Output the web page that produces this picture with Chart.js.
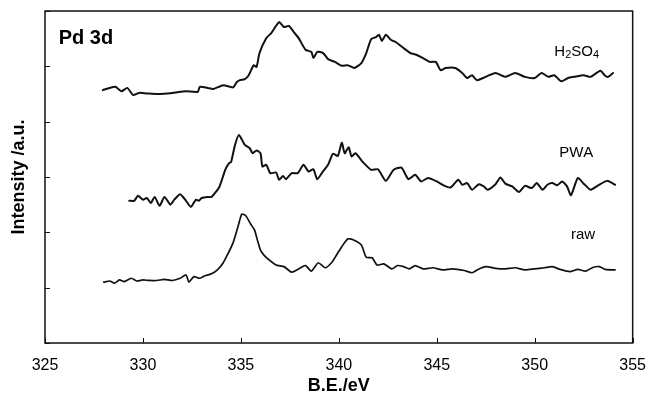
<!DOCTYPE html>
<html>
<head>
<meta charset="utf-8">
<script src="https://cdn.jsdelivr.net/npm/chart.js@4.4.0/dist/chart.umd.min.js"></script>
<style>
  html, body { margin: 0; padding: 0; background: #fff; }
  #box { width: 659px; height: 397px; }
</style>
</head>
<body>
<div id="box"><canvas id="grafico"></canvas></div>
<script>
// eixos
const xTicks = [325, 330, 335, 340, 345, 350, 355]
const yTicks = [0, 1, 2, 3, 4, 5, 6]

// H2SO4
const h2so4X = [327.95, 328.3, 328.6, 328.9, 329.2, 329.5, 329.8, 330.2, 330.8, 331.5, 332.2, 332.8, 332.9, 333.3, 333.6, 334.1, 334.6, 334.8, 334.95, 335.2, 335.4, 335.65, 335.8, 335.95, 336.3, 336.55, 336.95, 337.2, 337.45, 337.7, 337.95, 338.3, 338.6, 338.7, 338.9, 339.2, 339.45, 339.8, 340.15, 340.45, 340.8, 341.15, 341.4, 341.65, 341.9, 342.05, 342.2, 342.4, 342.65, 342.9, 343.3, 343.65, 343.95, 344.3, 344.65, 344.95, 345.2, 345.45, 345.95, 346.3, 346.55, 346.8, 347.05, 347.5, 348.0, 348.5, 349.0, 349.5, 350.0, 350.35, 350.7, 351.0, 351.35, 351.7, 352.0, 352.5, 352.85, 353.35, 353.6, 353.75, 354.0]
const h2so4Y = [4.57, 4.61, 4.63, 4.55, 4.61, 4.48, 4.52, 4.51, 4.50, 4.52, 4.55, 4.54, 4.63, 4.61, 4.59, 4.66, 4.62, 4.72, 4.75, 4.77, 4.84, 5.02, 4.99, 5.24, 5.51, 5.60, 5.80, 5.71, 5.73, 5.62, 5.51, 5.30, 5.26, 5.15, 5.26, 5.24, 5.13, 5.08, 5.01, 5.02, 4.97, 5.06, 5.24, 5.49, 5.53, 5.57, 5.46, 5.57, 5.48, 5.44, 5.33, 5.24, 5.21, 5.15, 5.08, 5.08, 4.93, 4.97, 4.97, 4.88, 4.79, 4.84, 4.75, 4.81, 4.88, 4.81, 4.88, 4.81, 4.79, 4.88, 4.81, 4.84, 4.73, 4.79, 4.81, 4.84, 4.81, 4.92, 4.83, 4.81, 4.88]

// PWA
const pwaX = [329.3, 329.55, 329.75, 330.0, 330.2, 330.4, 330.6, 330.85, 331.1, 331.4, 331.6, 331.9, 332.2, 332.45, 332.7, 332.85, 333.0, 333.3, 333.5, 333.9, 334.2, 334.4, 334.5, 334.7, 334.9, 335.2, 335.45, 335.6, 335.8, 336.0, 336.1, 336.3, 336.5, 336.8, 336.95, 337.15, 337.3, 337.6, 337.9, 338.2, 338.45, 338.7, 338.9, 339.15, 339.45, 339.7, 339.95, 340.15, 340.3, 340.5, 340.65, 340.85, 341.2, 341.65, 342.0, 342.4, 342.8, 343.2, 343.55, 343.9, 344.2, 344.55, 345.0, 345.4, 345.7, 346.1, 346.3, 346.55, 346.8, 347.15, 347.4, 347.6, 348.0, 348.25, 348.5, 348.85, 349.2, 349.5, 349.85, 350.1, 350.4, 350.65, 350.9, 351.15, 351.4, 351.65, 351.85, 352.2, 352.5, 352.85, 353.2, 353.7, 354.1]
const pwaY = [2.57, 2.57, 2.66, 2.59, 2.62, 2.53, 2.64, 2.48, 2.64, 2.50, 2.59, 2.69, 2.57, 2.46, 2.59, 2.57, 2.62, 2.64, 2.64, 2.82, 3.13, 3.25, 3.27, 3.58, 3.76, 3.58, 3.52, 3.43, 3.48, 3.43, 3.19, 3.22, 3.07, 3.08, 2.95, 3.02, 2.96, 3.07, 3.07, 3.22, 3.10, 3.14, 2.96, 3.08, 3.22, 3.42, 3.38, 3.62, 3.43, 3.54, 3.37, 3.43, 3.28, 3.13, 3.14, 2.93, 3.13, 3.17, 2.96, 3.04, 2.92, 2.98, 2.92, 2.84, 2.81, 2.95, 2.86, 2.89, 2.77, 2.87, 2.83, 2.77, 2.87, 2.99, 2.88, 2.83, 2.73, 2.84, 2.80, 2.89, 2.77, 2.86, 2.89, 2.85, 2.92, 2.83, 2.67, 2.98, 2.88, 2.77, 2.84, 2.93, 2.86]

// raw
const rawX = [328.0, 328.3, 328.55, 328.8, 329.05, 329.4, 329.7, 330.0, 330.3, 330.7, 331.1, 331.5, 331.9, 332.2, 332.35, 332.6, 332.9, 333.2, 333.5, 333.8, 334.1, 334.35, 334.6, 334.85, 335.05, 335.25, 335.5, 335.7, 335.85, 336.0, 336.2, 336.45, 336.8, 337.2, 337.6, 338.1, 338.3, 338.6, 338.95, 339.3, 339.65, 339.9, 340.15, 340.45, 340.7, 341.15, 341.4, 341.7, 341.95, 342.3, 342.7, 343.0, 343.3, 343.6, 343.9, 344.3, 344.8, 345.3, 345.8, 346.4, 346.8, 347.1, 347.5, 348.0, 348.5, 349.0, 349.5, 350.0, 350.5, 350.9, 351.3, 351.8, 352.2, 352.6, 353.0, 353.3, 353.6, 354.1]
const rawY = [1.10, 1.12, 1.08, 1.14, 1.11, 1.17, 1.12, 1.14, 1.13, 1.13, 1.15, 1.13, 1.17, 1.23, 1.10, 1.20, 1.17, 1.22, 1.25, 1.32, 1.45, 1.62, 1.81, 2.10, 2.33, 2.30, 2.15, 2.04, 1.85, 1.68, 1.58, 1.50, 1.41, 1.38, 1.28, 1.37, 1.40, 1.30, 1.45, 1.36, 1.46, 1.60, 1.74, 1.88, 1.87, 1.77, 1.55, 1.54, 1.41, 1.43, 1.34, 1.40, 1.38, 1.34, 1.40, 1.34, 1.36, 1.32, 1.34, 1.31, 1.27, 1.33, 1.38, 1.35, 1.34, 1.36, 1.32, 1.34, 1.36, 1.38, 1.33, 1.29, 1.33, 1.30, 1.37, 1.38, 1.33, 1.32]

// rotulos das curvas (posicao em unidades dos eixos)
const rotulos = [
    { texto: 'H2SO4', x: 351.0, y: 5.26 },
    { texto: 'PWA', x: 351.25, y: 3.43 },
    { texto: 'raw', x: 351.85, y: 1.95 }
]

function juntar(xs, ys) {
    return xs.map((x, i) => ({ x: x, y: ys[i] }))
}

const fonte = '"Liberation Sans", Arial, sans-serif'

const moldura = {
    id: 'moldura',
    afterDraw(chart) {
        const ctx = chart.ctx
        const a = chart.chartArea
        const sx = chart.scales.x
        const sy = chart.scales.y
        ctx.save()
        ctx.strokeStyle = '#111'
        ctx.lineWidth = 1.5
        ctx.strokeRect(a.left, a.top, a.right - a.left, a.bottom - a.top)
        ctx.lineWidth = 1
        ctx.beginPath()
        for (const v of xTicks) {
            const px = Math.round(sx.getPixelForValue(v)) + 0.5
            ctx.moveTo(px, a.bottom)
            ctx.lineTo(px, a.bottom - 5)
        }
        for (const v of yTicks) {
            const py = Math.round(sy.getPixelForValue(v)) + 0.5
            ctx.moveTo(a.left, py)
            ctx.lineTo(a.left + 5, py)
        }
        ctx.stroke()

        ctx.fillStyle = '#000'
        ctx.textBaseline = 'middle'
        ctx.textAlign = 'left'
        ctx.font = 'bold 20px ' + fonte
        ctx.fillText('Pd 3d', sx.getPixelForValue(325.7), sy.getPixelForValue(5.51))

        for (const r of rotulos) {
            let px = sx.getPixelForValue(r.x)
            const py = sy.getPixelForValue(r.y)
            // subscritos em H2SO4
            for (const ch of r.texto) {
                const sub = /[0-9]/.test(ch)
                ctx.font = (sub ? '11px ' : '15px ') + fonte
                ctx.fillText(ch, px, py + (sub ? 3 : 0))
                px += ctx.measureText(ch).width
            }
        }
        ctx.restore()
    }
}

new Chart(document.getElementById('grafico'), {
    type: 'line',
    data: {
        datasets: [
            { label: 'H2SO4', data: juntar(h2so4X, h2so4Y), borderColor: '#111', borderWidth: 2 },
            { label: 'PWA', data: juntar(pwaX, pwaY), borderColor: '#111', borderWidth: 2 },
            { label: 'raw', data: juntar(rawX, rawY), borderColor: '#111', borderWidth: 1.7 }
        ]
    },
    options: {
        responsive: true,
        maintainAspectRatio: false,
        animation: false,
        events: [],
        layout: { padding: { top: 11, right: 16, left: 0, bottom: 0 } },
        elements: { point: { radius: 0 }, line: { tension: 0.2, borderJoinStyle: 'round', borderCapStyle: 'round' } },
        plugins: { legend: { display: false }, tooltip: { enabled: false } },
        scales: {
            x: {
                type: 'linear',
                min: 325,
                max: 355,
                afterFit(s) { s.height = 54 },
                afterBuildTicks(s) { s.ticks = xTicks.map(v => ({ value: v })) },
                ticks: { color: '#000', font: { family: fonte, size: 16 }, padding: 13, maxRotation: 0 },
                grid: { display: false, drawTicks: false },
                border: { display: false },
                title: { display: true, text: 'B.E./eV', color: '#000', font: { family: fonte, size: 18, weight: 'bold' }, padding: { top: 0, bottom: 0 } }
            },
            y: {
                min: 0,
                max: 6,
                afterFit(s) { s.width = 45 },
                ticks: { display: false },
                grid: { display: false, drawTicks: false },
                border: { display: false },
                title: { display: true, text: 'Intensity /a.u.', color: '#000', font: { family: fonte, size: 18, weight: 'bold' }, padding: { top: 8, bottom: 0 } }
            }
        }
    },
    plugins: [moldura]
})
</script>
</body>
</html>
